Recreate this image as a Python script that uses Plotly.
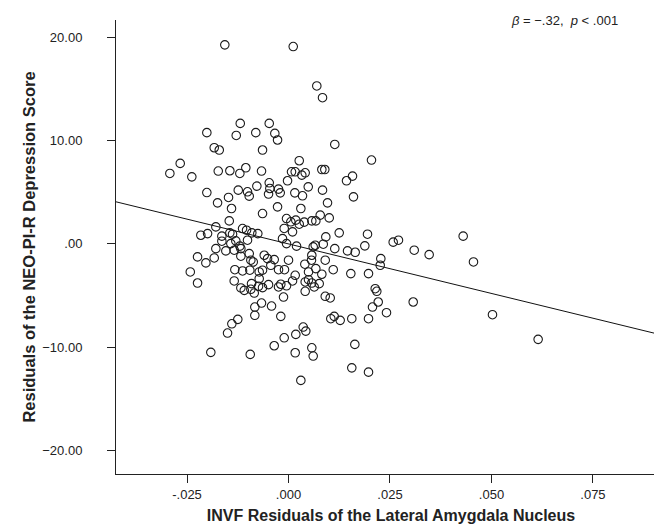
import plotly.graph_objects as go

# Residual data
x_resid = [
    -0.01569, -0.01189, -0.00475, -0.02012, -0.01288, -0.00806, -0.00337, -0.00270, -0.01830, -0.01706,
    -0.00640, 0.00116, 0.00697, 0.00838, 0.01140, -0.02668, -0.02923, -0.02382, -0.01731, -0.01445,
    -0.01199, -0.01052, -0.00665, -0.00024, -0.02012, -0.01238, -0.01010, -0.00968, -0.00780, -0.00475,
    -0.00460, -0.00492, -0.00246, -0.00204, -0.01748, -0.01478, -0.01404, -0.00270, -0.00640, -0.01460,
    -0.01790, -0.02160, -0.01994, -0.01642, -0.01445, -0.01379, -0.01132, -0.01034, -0.00904, -0.00756,
    -0.01642, -0.01421, -0.01298, -0.01010, -0.01199, -0.01790, -0.01544, -0.01338, -0.01174, -0.00968,
    -0.02241, -0.01830, -0.01174, -0.00598, -0.00516, -0.00352, -0.00148, -0.00049, -0.00106, -0.02036,
    -0.02420, -0.02241, -0.01322, -0.01132, -0.00928, -0.00869, 0.00000, -0.00953, -0.00722, -0.00640,
    -0.00436, -0.00246, -0.00099, -0.01338, -0.01174, -0.01090, -0.00911, -0.00928, -0.00844, -0.00722,
    -0.00738, -0.00640, -0.00492, -0.00246, -0.00190, -0.00049, -0.00123, -0.00665, -0.00830, -0.00418,
    -0.00830, -0.00190, -0.01249, -0.01396, -0.01502, -0.00106, -0.00352, -0.01914, -0.00943, 0.00402,
    0.00566, 0.00905, 0.00165, 0.00493, 0.00673, 0.00821, 0.01102, 0.01535, 0.01971, 0.02274,
    0.02259, 0.00099, 0.00411, 0.00493, 0.00574, 0.00633, 0.00756, 0.00411, 0.00905, 0.01027,
    0.02136, 0.02175, 0.02210, 0.02069, 0.02414, 0.03072, 0.01042, 0.01126, 0.01273, 0.01559,
    0.01971, 0.00362, 0.00426, 0.00180, 0.01634, 0.00574, 0.00165, 0.00608, 0.01559, 0.01971,
    0.00304, 0.00264, 0.02044, 0.00074, 0.00165, 0.00328, 0.00411, 0.00821, 0.00894, 0.01429,
    0.01577, 0.00486, 0.00838, 0.00156, 0.00345, 0.01601, 0.00961, 0.00304, 0.00781, 0.01003,
    -0.00049, 0.00057, 0.00180, 0.00264, 0.00387, 0.00574, 0.00673, 0.00099, 0.01249, 0.01946,
    0.00919, 0.00198, 0.00608, 0.00658, 0.00856, 0.01880, 0.01140, 0.01454, 0.01643, 0.02579,
    0.02709, 0.03097, 0.00574, 0.03465, 0.04303, 0.04557, 0.05025, 0.06150,
]
y_resid = [
    19.29, 11.68, 11.68, 10.78, 10.51, 10.78, 10.71, 10.07, 9.32, 9.10,
    9.10, 19.13, 15.31, 14.17, 9.64, 7.80, 6.83, 6.50, 7.06, 7.09,
    6.83, 7.38, 7.06, 6.12, 4.98, 5.21, 5.05, 4.63, 5.60, 5.92,
    5.37, 4.83, 5.31, 4.95, 3.98, 4.50, 3.43, 3.59, 2.94, 2.23,
    1.65, 0.84, 1.00, 0.75, 1.07, 0.94, 1.49, 1.33, 1.07, 1.00,
    0.26, 0.03, 0.29, 0.36, -0.22, -0.46, -0.68, -0.61, -0.46, -0.94,
    -1.26, -1.36, -1.19, -1.10, -1.43, -1.52, 0.51, 0.03, 1.50, -1.84,
    -2.72, -3.79, -2.50, -2.62, -1.58, -1.75, -1.58, -2.55, -2.72, -2.55,
    -2.07, -2.50, -2.50, -3.59, -4.27, -4.50, -3.85, -4.40, -4.76, -3.37,
    -4.11, -4.24, -3.95, -4.17, -3.91, -4.06, -5.15, -5.73, -6.12, -6.02,
    -6.92, -7.02, -7.31, -7.74, -8.64, -9.10, -9.87, -10.51, -10.71, -1.97,
    -1.58, -1.58, -3.04, -2.72, -2.40, -2.94, -2.50, -2.88, -2.88, -1.43,
    -2.07, -3.59, -3.69, -3.47, -3.79, -4.17, -3.85, -4.59, -5.08, -5.24,
    -4.34, -4.59, -5.63, -6.12, -6.67, -5.63, -7.25, -7.02, -7.41, -7.25,
    -7.25, -8.06, -8.45, -8.77, -9.74, -10.07, -10.55, -10.87, -12.01, -12.43,
    -13.23, 8.06, 8.13, 6.99, 6.99, 6.67, 6.89, 7.21, 7.21, 6.12,
    6.57, 5.53, 5.21, 4.95, 4.66, 4.56, 3.98, 3.43, 2.79, 2.52,
    2.46, 2.14, 2.30, 1.91, 2.11, 2.23, 2.23, 1.17, 1.07, 0.94,
    0.68, -0.22, -0.29, -0.13, -0.03, -0.19, -0.46, -0.68, -0.81, 0.17,
    0.36, -0.61, -1.10, -1.04, 0.75, -1.75, -6.86, -9.25,
]

# Fit line
fit_intercept = 0.0
fit_slope = -96.0
x_range = [-0.0425, 0.0930]
y_range = [-22.3, 21.7]
line_y = [fit_intercept + fit_slope * v for v in x_range]

x_tickvals = [-0.025, 0.0, 0.025, 0.05, 0.075]
x_ticktext = ["-.025", ".000", ".025", ".050", ".075"]
y_tickvals = [20, 10, 0, -10, -20]
y_ticktext = ["20.00", "10.00", ".00", "\u221210.00", "\u221220.00"]

fig = go.Figure()
fig.add_trace(go.Scatter(
    x=x_range, y=line_y, mode="lines",
    line=dict(color="#111111", width=1), hoverinfo="skip", showlegend=False,
))
fig.add_trace(go.Scatter(
    x=x_resid, y=y_resid, mode="markers",
    marker=dict(symbol="circle-open", size=8.5, color="#1a1a1a", line=dict(width=1.1)),
    showlegend=False,
))

font_family = "Liberation Sans, Arial, sans-serif"
fig.update_layout(
    width=662, height=530,
    margin=dict(l=108, r=4, t=12, b=64),
    paper_bgcolor="white", plot_bgcolor="white",
    font=dict(family=font_family, color="#222222", size=13),
    xaxis=dict(
        range=x_range, tickvals=x_tickvals, ticktext=x_ticktext,
        showline=True, linecolor="#222222", linewidth=1,
        ticks="outside", ticklen=8, tickcolor="#222222",
        showgrid=False, zeroline=False,
        tickfont=dict(size=13),
        title=dict(text="<b>INVF Residuals of the Lateral Amygdala Nucleus</b>",
                   font=dict(size=16), standoff=9),
    ),
    yaxis=dict(
        range=y_range, tickvals=y_tickvals, ticktext=y_ticktext,
        showline=True, linecolor="#222222", linewidth=1,
        ticks="outside", ticklen=8, tickcolor="#222222",
        ticklabelstandoff=22,
        showgrid=False, zeroline=False,
        tickfont=dict(size=13),
        title=dict(text="<b>Residuals of the NEO-PI-R Depression Score</b>",
                   font=dict(size=16.5), standoff=2),
    ),
    annotations=[dict(
        x=0.816, y=1.0, xref="paper", yref="paper", xanchor="center", yanchor="middle",
        text="<i>\u03b2</i> = \u2212.32,  <i>p</i> &lt; .001", showarrow=False,
        font=dict(size=13, color="#222222"),
    )],
)

fig.write_html("out.html")
